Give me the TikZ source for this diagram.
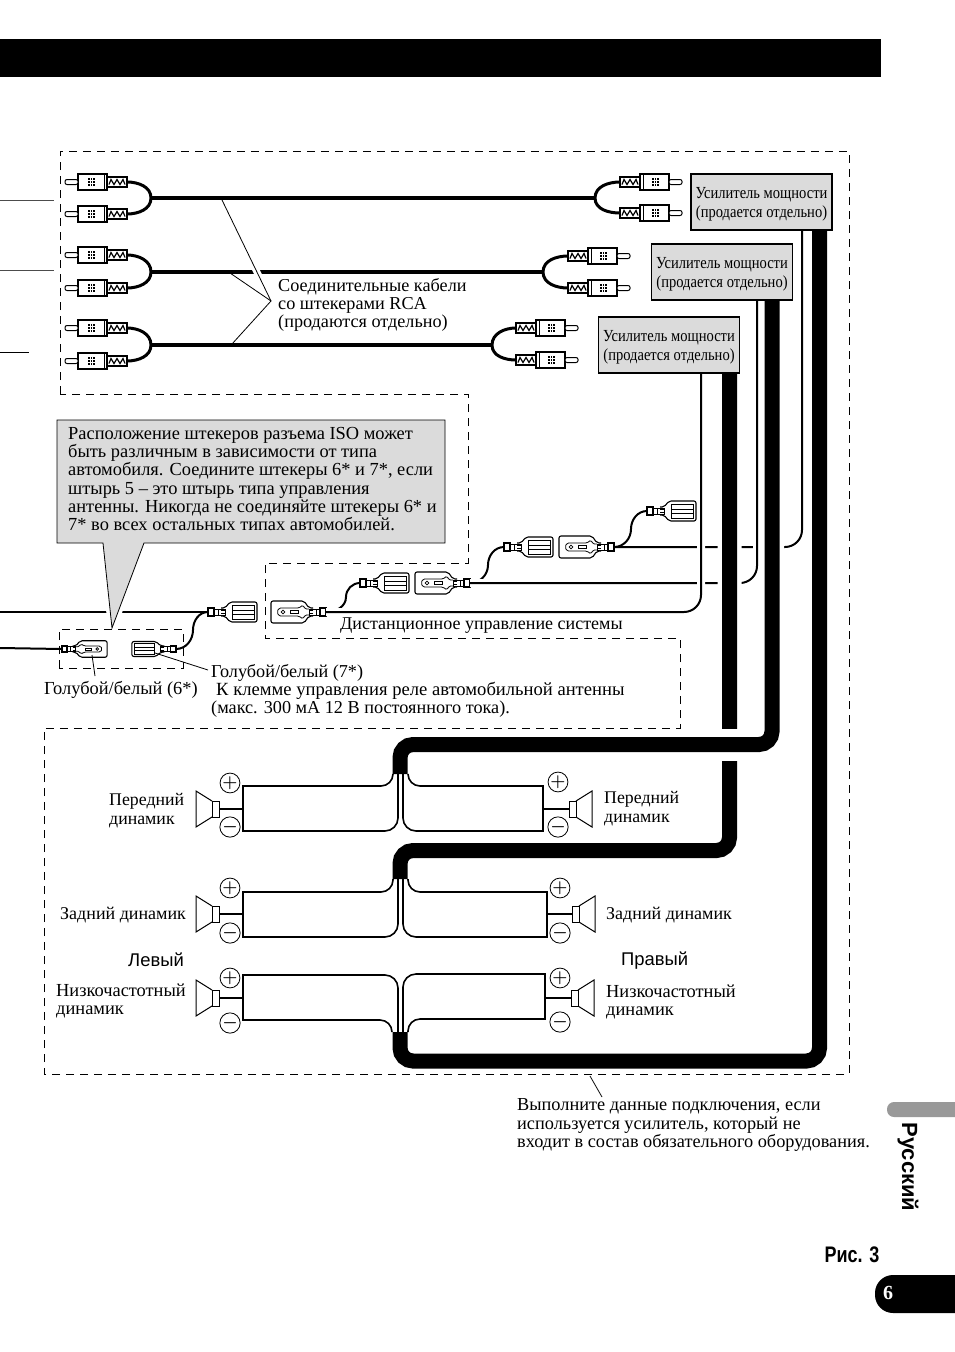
\documentclass[tikz,border=0pt]{standalone}
\usepackage{fontspec}
\setmainfont{Liberation Serif}
\setsansfont{Liberation Sans}
\newfontfamily\ampfont[FakeStretch=0.86]{Liberation Serif}
\newfontfamily\figfont[FakeStretch=0.8]{Liberation Sans}
\usetikzlibrary{positioning}
%Crimp part shared by the flat plugs
\newcommand{\plughead}{
       \draw[fill=white, line width=1pt] (6,-3) rectangle (17,3);
       \draw[line width=0.8pt] (10,-3) -- (10,3) (13,-1.5) -- (17,-1.5) (13,1.5) -- (17,1.5);
       \draw[fill=white, line width=1.4pt] (0,-4) rectangle (6,4);
}
\tikzset{
%Define page scale, one unit is one pixel
    x=1pt, y=-1pt,
%Define style for texts
    lbl/.style={
           inner sep=0pt,
           anchor=west,
           align=left,
           font=\fontsize{18.2}{18.4}\selectfont},
%Define style for amplifier boxes
    ampbox/.style={
           rectangle,
           draw=black, line width=1.2pt,
           fill=black!14,
           minimum width=141pt,
           minimum height=56pt,
           inner sep=0pt,
           align=center,
           text height=34pt,
           font=\ampfont\fontsize{16.9}{18.4}\selectfont},
    sign/.style={
           circle,
           draw=black, line width=0.8pt,
           minimum size=14.5pt,
           inner sep=0pt,
           font=\fontsize{16}{16}\selectfont\boldmath},
%Define wire styles
    fine/.style={line width=0.8pt},
    rcawire/.style={line width=3pt},
    mainwire/.style={line width=4pt},
    tailwire/.style={line width=2pt},
    ctrl/.style={line width=2pt, rounded corners=17pt},
    spk/.style={line width=1.6pt},
    power/.style={line width=15pt, rounded corners=13pt},
    halo/.style={preaction={draw, white, line width=#1}},
    border/.style={line width=0.9pt, dash pattern=on 8pt off 6pt},
%Define plugs
    rca/.pic={
       \coordinate (-tail) at (0,0);
       \draw[fill=white, line width=1.1pt] (0,-5) rectangle (20,5);
       \draw[line width=1.2pt] (2,2.5) -- (4,-2.5) -- (7,2.5) -- (10,-2.5) -- (13,2.5) -- (16,-2.5) -- (18,2.5);
       \draw[fill=white, line width=1.2pt] (20,-8) rectangle (49,8);
       \draw[line width=0.9pt] (23,-8) -- (23,8);
       \fill (32,-4) rectangle (39,4);
       \draw[white, line width=0.5pt] (34.3,-4) -- (34.3,4) (36.6,-4) -- (36.6,4) (32,-1.3) -- (39,-1.3) (32,1.3) -- (39,1.3);
       \draw[fill=white, line width=1pt, rounded corners=2pt] (49,-2.5) rectangle (62,2.5);
    },
    femaleplug/.pic={
       \coordinate (-tail) at (0,0);
       \draw[fill=white, line width=1.1pt, rounded corners=2pt] (13,-4) -- (17,-4) -- (22,-10) -- (49,-10) -- (49,10) -- (22,10) -- (17,4) -- (13,4);
       \draw[line width=0.8pt] (24,-2) -- (46,-2) (24,2) -- (46,2) (46,-7) -- (24,-7) -- (24,7) -- (46,7) -- cycle;
       \plughead
    },
    maleplug/.pic={
       \coordinate (-tail) at (0,0);
       \draw[fill=white, line width=1.1pt, rounded corners=2pt] (13,-4) -- (17,-4) -- (22,-11) -- (55,-11) -- (55,11) -- (22,11) -- (17,4) -- (13,4);
       \draw[line width=0.8pt, rounded corners=1.5pt] (17,-3) -- (21,-3) -- (23,-7) -- (27,-4) -- (47,-4) -- (49,0) -- (47,4) -- (27,4) -- (23,7) -- (21,3) -- (17,3);
       \draw[line width=0.7pt] (43,0) circle (1.8pt);
       \draw[line width=0.7pt] (28,-1.5) rectangle (36,1.5);
       \plughead
    },
    speaker/.pic={
       \coordinate (-stub) at (0,0);
       \draw[fill=white, line width=1pt] (0,-8) rectangle (7,8);
       \draw[line width=1pt] (7,-8) -- (23,-18) -- (23,18) -- (7,8);
    },
}
\begin{document}
\begin{tikzpicture}
 \useasboundingbox (0,0) rectangle (954,1352);
 \fill (-5,39) rectangle (881,77);
 % outer dashed frame
 \draw[border] (60,394) -- (60,151) -- (849,151) -- (849,1074) -- (44,1074) -- (44,728) -- (680,728) -- (680,638) -- (265,638) -- (265,563) -- (468,563) -- (468,394) -- cycle;
 \draw[black!70, line width=1pt] (0,200) -- (54,200);
 \draw[black!70, line width=1pt] (0,270) -- (54,270);
 \draw[line width=1pt] (0,352) -- (29,352);
 % rca cables
 \pic[xscale=-1] (rcaA) at (127,182) {rca};
 \pic[xscale=-1] (rcaB) at (127,214) {rca};
 \pic[xscale=-1] (rcaC) at (127,255) {rca};
 \pic[xscale=-1] (rcaD) at (127,288) {rca};
 \pic[xscale=-1] (rcaE) at (127,328) {rca};
 \pic[xscale=-1] (rcaF) at (127,361) {rca};
 \pic (rcaG) at (620,182) {rca};
 \pic (rcaH) at (620,213) {rca};
 \pic (rcaI) at (568,256) {rca};
 \pic (rcaJ) at (568,288) {rca};
 \pic (rcaK) at (516,328) {rca};
 \pic (rcaL) at (516,360) {rca};
 \coordinate (joinA) at (151,198);
 \coordinate (joinB) at (151,272);
 \coordinate (joinC) at (151,345);
 \coordinate (joinD) at (595,198);
 \coordinate (joinE) at (543,272);
 \coordinate (joinF) at (492,345);
 \draw[rcawire] (rcaA-tail) to[out=0, in=90] (joinA) to[out=-90, in=0] (rcaB-tail);
 \draw[rcawire] (rcaC-tail) to[out=0, in=90] (joinB) to[out=-90, in=0] (rcaD-tail);
 \draw[rcawire] (rcaE-tail) to[out=0, in=90] (joinC) to[out=-90, in=0] (rcaF-tail);
 \draw[rcawire] (rcaG-tail) to[out=180, in=90] (joinD) to[out=-90, in=180] (rcaH-tail);
 \draw[rcawire] (rcaI-tail) to[out=180, in=90] (joinE) to[out=-90, in=180] (rcaJ-tail);
 \draw[rcawire] (rcaK-tail) to[out=180, in=90] (joinF) to[out=-90, in=180] (rcaL-tail);
 \draw[mainwire] (joinB) -- (joinE);
 \node[lbl] (rcanote) at (278,305) {Соединительные кабели\\со штекерами RCA\\(продаются отдельно)};
 \coordinate (fanTip) at (271,301);
 \coordinate (fanA) at (222,200);
 \coordinate (fanB) at (230,273);
 \coordinate (fanC) at (232,344);
 \draw[fine, halo=7pt] (fanTip) -- (fanA);
 \draw[fine] (fanB) -- (fanTip) -- (fanC);
 \draw[mainwire] (joinA) -- (joinD);
 \draw[mainwire] (joinC) -- (joinF);
 % plugs on the control wires
 \pic (femA) at (208,612) {femaleplug};
 \pic[xscale=-1] (malA) at (326,612) {maleplug};
 \pic (femB) at (360,583) {femaleplug};
 \pic[xscale=-1] (malB) at (470,583) {maleplug};
 \pic (femC) at (504,547) {femaleplug};
 \pic[xscale=-1] (malC) at (614,547) {maleplug};
 \pic (femD) at (647,511) {femaleplug};
 \pic[xscale=0.82, yscale=0.75] (malD) at (62,649) {maleplug};
 \pic[xscale=-0.9, yscale=0.75] (femE) at (176,649) {femaleplug};
 \draw[tailwire] (0,612) -- (femA-tail);
 \draw[tailwire] (0,648) -- (malD-tail);
 \draw[tailwire] (femE-tail) to[out=0, in=-90] (193,630) to[out=90, in=180] (femA-tail);
 \draw[tailwire] (malA-tail) to[out=0, in=-90] (346,597) to[out=90, in=180] (femB-tail);
 \draw[tailwire] (malB-tail) to[out=0, in=-90] (488,565) to[out=90, in=180] (femC-tail);
 \draw[tailwire] (malC-tail) to[out=0, in=-90] (631,529) to[out=90, in=180] (femD-tail);
 % amplifier wires
 \coordinate (thinA) at (802,230);
 \coordinate (thinB) at (757,300);
 \coordinate (thinC) at (701,373);
 \coordinate (fatA) at (819.5,230);
 \coordinate (fatB) at (772,300);
 \coordinate (fatC) at (729.5,373);
 \coordinate (dropA) at (400,1032);
 \coordinate (dropB) at (400,774);
 \coordinate (dropC) at (400,879);
 \draw[ctrl] (thinA) |- (malC-tail);
 \draw[ctrl, halo=8pt] (thinB) |- (malB-tail);
 \draw[ctrl, halo=8pt] (thinC) |- (malA-tail);
 \draw[power, halo=24pt] (fatC) -- (729.5,850.5) -- (400,850.5) -- (dropC);
 \fill[white] (718,729) rectangle (741,761);
 \draw[power, halo=24pt] (fatB) -- (772,744.5) -- (400,744.5) -- (dropB);
 \draw[power] (fatA) -- (819.5,1061) -- (400,1061) -- (dropA);
 % amplifiers
 \node[ampbox] (ampA) at (761.5,202) {Усилитель мощности\\(продается отдельно)};
 \node[ampbox] (ampB) at (722,272) {Усилитель мощности\\(продается отдельно)};
 \node[ampbox] (ampC) at (669,345) {Усилитель мощности\\(продается отдельно)};
 % callout
 \draw[fill=black!14, line width=0.8pt, halo=8pt] (57,420) -- (445,420) -- (445,543) -- (144,543) -- (112,628) -- (103,543) -- (57,543) -- cycle;
 \node[lbl, font=\fontsize{18.4}{18.25}\selectfont] (isonote) at (68,479) {Расположение штекеров разъема ISO может\\быть различным в зависимости от типа\\автомобиля. Соедините штекеры 6* и 7*, если\\штырь 5 – это штырь типа управления\\антенны. Никогда не соединяйте штекеры 6* и\\7* во всех остальных типах автомобилей.};
 \draw[border] (59,668) -- (59,629) -- (183,629) -- (183,668) -- cycle;
 \coordinate (tagA) at (92,655);
 \coordinate (tagB) at (155,653);
 \draw[fine] (tagA) -- (95,676);
 \draw[fine] (tagB) -- (208,670);
 \node[lbl, font=\fontsize{18.4}{18.4}\selectfont] (blueA) at (44,690) {Голубой/белый (6*)};
 \node[lbl, font=\fontsize{18.2}{18.4}\selectfont] (blueB) at (211,673) {Голубой/белый (7*)};
 \node[lbl, font=\fontsize{18.6}{18.4}\selectfont] (antA) at (216,691) {К клемме управления реле автомобильной антенны};
 \node[lbl] (antB) at (211,709) {(макс. 300 мА 12 В постоянного тока).};
 \node[lbl, font=\fontsize{18}{18.4}\selectfont] (remote) at (340,626) {Дистанционное управление системы};
 % speaker wires
 \draw[spk] (393,774) [rounded corners=12pt] |- (320,786) [sharp corners] -- (243,786) -- (243,831) -- (320,831) [rounded corners=13pt] -| (398,774);
 \draw[spk] (408,774) [rounded corners=12pt] |- (480,786) [sharp corners] -- (543,786) -- (543,831) -- (480,831) [rounded corners=13pt] -| (403,774);
 \draw[spk] (393,879) [rounded corners=12pt] |- (320,892) [sharp corners] -- (243,892) -- (243,937) -- (320,937) [rounded corners=13pt] -| (398,879);
 \draw[spk] (408,879) [rounded corners=12pt] |- (480,892) [sharp corners] -- (547,892) -- (547,937) -- (480,937) [rounded corners=13pt] -| (403,879);
 \draw[spk] (392,1032) [rounded corners=12pt] |- (320,1020) [sharp corners] -- (243,1020) -- (243,975) -- (320,975) [rounded corners=13pt] -| (398,1032);
 \draw[spk] (408,1032) [rounded corners=12pt] |- (480,1019) [sharp corners] -- (545,1019) -- (545,974) -- (480,974) [rounded corners=13pt] -| (403,1032);
 % speakers
 \pic[xscale=-1] (spkA) at (219,809) {speaker};
 \pic[xscale=-1] (spkB) at (219,914) {speaker};
 \pic[xscale=-1] (spkC) at (219,998) {speaker};
 \pic (spkD) at (569,809) {speaker};
 \pic (spkE) at (572,914) {speaker};
 \pic (spkF) at (571,998) {speaker};
 \draw[line width=2pt] (spkA-stub) -- (243,809);
 \draw[line width=2pt] (spkB-stub) -- (243,914);
 \draw[line width=2pt] (spkC-stub) -- (243,998);
 \draw[line width=2pt] (spkD-stub) -- (543,809);
 \draw[line width=2pt] (spkE-stub) -- (547,914);
 \draw[line width=2pt] (spkF-stub) -- (545,998);
 \node[sign] (plusA) at (230,783) {$+$};
 \node[sign] (minusA) at (230,827) {$-$};
 \node[sign] (plusB) at (230,888) {$+$};
 \node[sign] (minusB) at (230,933) {$-$};
 \node[sign] (plusC) at (230,978) {$+$};
 \node[sign] (minusC) at (230,1023) {$-$};
 \node[sign] (plusD) at (558,782) {$+$};
 \node[sign] (minusD) at (558,827) {$-$};
 \node[sign] (plusE) at (560,888) {$+$};
 \node[sign] (minusE) at (560,933) {$-$};
 \node[sign] (plusF) at (560,978) {$+$};
 \node[sign] (minusF) at (560,1022) {$-$};
 \node[lbl, font=\fontsize{17.8}{18.4}\selectfont] (frontL) at (109,810.5) {Передний\\динамик};
 \node[lbl, font=\fontsize{17.8}{18.4}\selectfont] (frontR) at (604,808.5) {Передний\\динамик};
 \node[lbl, font=\fontsize{18}{18.4}\selectfont] (rearL) at (60,915) {Задний динамик};
 \node[lbl, font=\fontsize{18}{18.4}\selectfont] (rearR) at (606,915) {Задний динамик};
 \node[lbl, font=\sffamily\fontsize{18.4}{18}\selectfont] (sideL) at (128,960) {Левый};
 \node[lbl, font=\sffamily\fontsize{18.4}{18}\selectfont] (sideR) at (621,961) {Правый};
 \node[lbl, font=\fontsize{18.4}{18.4}\selectfont] (subL) at (56,1001) {Низкочастотный\\динамик};
 \node[lbl, font=\fontsize{18.4}{18.4}\selectfont] (subR) at (606,1002) {Низкочастотный\\динамик};
 % bottom note
 \coordinate (noteTag) at (590,1076);
 \draw[fine] (noteTag) -- (602,1097);
 \node[lbl, font=\fontsize{18.3}{18.8}\selectfont] (optnote) at (517,1125) {Выполните данные подключения, если\\используется усилитель, который не\\входит в состав обязательного оборудования.};
 % page furniture
 \fill[black!40, rounded corners=7pt] (887,1102) rectangle (975,1117);
 \node[inner sep=0pt, rotate=-90, font=\sffamily\bfseries\fontsize{22}{22}\selectfont] (lang) at (908,1167) {Русский};
 \node[inner sep=0pt, font=\figfont\bfseries\fontsize{22.5}{22}\selectfont] (fig) at (852,1255) {Рис. 3};
 \fill[rounded corners=18pt] (875,1275) rectangle (985,1313);
 \node[inner sep=0pt, text=white, font=\bfseries\fontsize{20}{20}\selectfont] (page) at (888,1293) {6};
\end{tikzpicture}
\end{document}
